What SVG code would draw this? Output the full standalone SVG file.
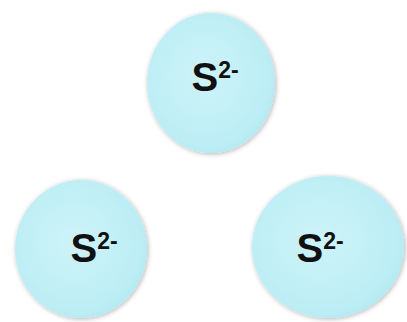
<svg xmlns="http://www.w3.org/2000/svg" width="407" height="322" viewBox="0 0 407 322">
<defs>
<radialGradient id="g" cx="0.45" cy="0.45" r="0.65">
<stop offset="0" stop-color="#cdf3f8"/>
<stop offset="0.75" stop-color="#bdeef5"/>
<stop offset="1" stop-color="#ade6f0"/>
</radialGradient>
<filter id="sh" x="-20%" y="-20%" width="140%" height="140%">
<feGaussianBlur in="SourceAlpha" stdDeviation="2.5"/>
<feOffset dx="1" dy="1" result="b"/>
<feComponentTransfer><feFuncA type="linear" slope="0.3"/></feComponentTransfer>
<feMerge><feMergeNode/><feMergeNode in="SourceGraphic"/></feMerge>
</filter>
</defs>
<style>
.ion{fill:url(#g);filter:url(#sh)}
.s{font-family:"Liberation Sans",Arial,sans-serif;font-weight:bold;font-size:40px;fill:#111}
.sup{font-family:"Liberation Sans",Arial,sans-serif;font-weight:bold;font-size:23px;fill:#111}
</style>
<rect width="407" height="322" fill="#ffffff"/>
<g id="ion-top">
<ellipse class="ion" cx="211" cy="83" rx="64" ry="70"/>
<text class="s" x="191.5" y="91">S<tspan class="sup" dy="-13">2-</tspan></text>
</g>
<g id="ion-left">
<ellipse class="ion" cx="81" cy="249" rx="66" ry="69"/>
<text class="s" x="70.5" y="262">S<tspan class="sup" dy="-13">2-</tspan></text>
</g>
<g id="ion-right">
<ellipse class="ion" cx="328" cy="247" rx="76" ry="71"/>
<text class="s" x="296.5" y="262">S<tspan class="sup" dy="-13">2-</tspan></text>
</g>
<g id="connectors"></g>
</svg>
